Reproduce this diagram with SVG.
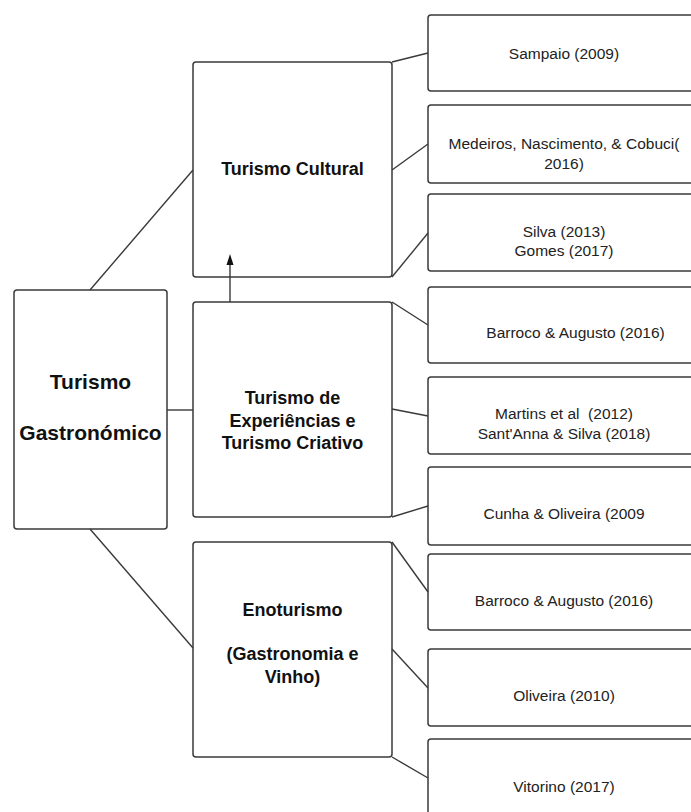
<svg xmlns="http://www.w3.org/2000/svg" width="691" height="812" viewBox="0 0 691 812">
<style>
.box{fill:#fff;stroke:#3a3a3a;stroke-width:1.5}
.con{fill:none;stroke:#3a3a3a;stroke-width:1.4}
.big{font-family:"Liberation Sans",Arial,sans-serif;font-weight:bold;fill:#111;text-anchor:middle}
.ref{font-family:"Liberation Sans",Arial,sans-serif;font-size:15.5px;fill:#222;text-anchor:middle}
</style>
<rect width="691" height="812" fill="#fff"/>
<g id="n-gastronomico">
<rect class="box" x="14" y="290" width="153" height="239" rx="3"/>
<text class="big" font-size="21" x="90.5" y="389">Turismo</text>
<text class="big" font-size="21" x="90.5" y="440">Gastronómico</text>
</g>
<g id="n-cultural">
<rect class="box" x="193" y="62" width="199" height="215" rx="3"/>
<text class="big" font-size="18" x="292.5" y="175">Turismo Cultural</text>
</g>
<g id="n-experiencias">
<rect class="box" x="193" y="302" width="199" height="215" rx="3"/>
<text class="big" font-size="18" x="292.5" y="404">Turismo de</text>
<text class="big" font-size="18" x="292.5" y="426.5">Experiências e</text>
<text class="big" font-size="18" x="292.5" y="449">Turismo Criativo</text>
</g>
<g id="n-enoturismo">
<rect class="box" x="193" y="542" width="199" height="215" rx="3"/>
<text class="big" font-size="18" x="292.5" y="615.5">Enoturismo</text>
<text class="big" font-size="18" x="292.5" y="660">(Gastronomia e</text>
<text class="big" font-size="18" x="292.5" y="683">Vinho)</text>
</g>
<g id="r-sampaio">
<rect class="box" x="428" y="15" width="275" height="76" rx="3"/>
<text class="ref" x="564" y="58.5">Sampaio (2009)</text>
</g>
<g id="r-medeiros">
<rect class="box" x="428" y="105" width="275" height="78" rx="3"/>
<text class="ref" x="564" y="149">Medeiros, Nascimento, &amp; Cobuci(</text>
<text class="ref" x="564" y="169">2016)</text>
</g>
<g id="r-silva">
<rect class="box" x="428" y="194" width="275" height="77" rx="3"/>
<text class="ref" x="564" y="236.5">Silva (2013)</text>
<text class="ref" x="564" y="255.5">Gomes (2017)</text>
</g>
<g id="r-barroco1">
<rect class="box" x="428" y="287" width="275" height="76" rx="3"/>
<text class="ref" x="575.5" y="338">Barroco &amp; Augusto (2016)</text>
</g>
<g id="r-martins">
<rect class="box" x="428" y="377" width="275" height="77" rx="3"/>
<text class="ref" x="564" y="419" style="white-space:pre">Martins et al  (2012)</text>
<text class="ref" x="564" y="439">Sant'Anna &amp; Silva (2018)</text>
</g>
<g id="r-cunha">
<rect class="box" x="428" y="467" width="275" height="78" rx="3"/>
<text class="ref" x="564" y="519">Cunha &amp; Oliveira (2009</text>
</g>
<g id="r-barroco2">
<rect class="box" x="428" y="554" width="275" height="76" rx="3"/>
<text class="ref" x="564" y="605.5">Barroco &amp; Augusto (2016)</text>
</g>
<g id="r-oliveira">
<rect class="box" x="428" y="649" width="275" height="77" rx="3"/>
<text class="ref" x="564" y="701">Oliveira (2010)</text>
</g>
<g id="r-vitorino">
<rect class="box" x="428" y="739" width="275" height="90" rx="3"/>
<text class="ref" x="564" y="791.5">Vitorino (2017)</text>
</g>
<g id="connectors">
<line class="con" x1="90" y1="290" x2="193" y2="170"/>
<line class="con" x1="167" y1="410" x2="193" y2="410"/>
<line class="con" x1="90" y1="529" x2="193" y2="648"/>
<line class="con" x1="392" y1="62" x2="428" y2="53"/>
<line class="con" x1="392" y1="170" x2="428" y2="144"/>
<line class="con" x1="392" y1="277" x2="428" y2="233"/>
<line class="con" x1="392" y1="302" x2="428" y2="325"/>
<line class="con" x1="392" y1="409" x2="428" y2="416"/>
<line class="con" x1="392" y1="517" x2="428" y2="506"/>
<line class="con" x1="392" y1="542" x2="428" y2="592"/>
<line class="con" x1="392" y1="649" x2="428" y2="688"/>
<line class="con" x1="392" y1="757" x2="428" y2="778"/>
<line class="con" x1="230" y1="302" x2="230" y2="264"/>
<path d="M226.5,265 L230,254 L233.5,265 Z" fill="#111"/>
</g>
</svg>
